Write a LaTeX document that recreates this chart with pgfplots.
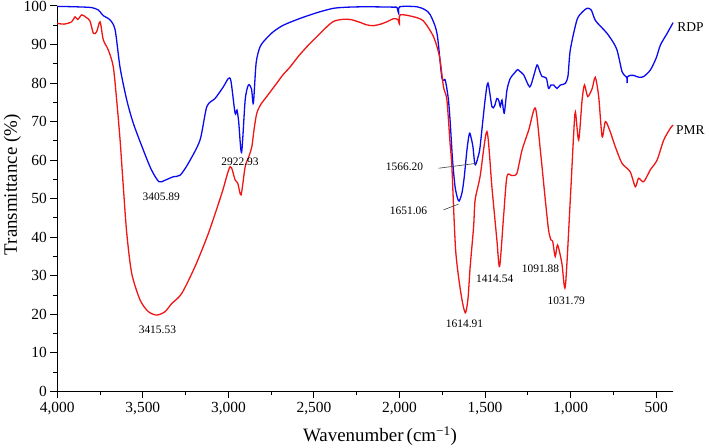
\documentclass[border=0pt]{standalone}
\usepackage{fontspec}
\setmainfont{Liberation Serif}
\usepackage{pgfplots}
\pgfplotsset{compat=1.18}
\definecolor{rdpblue}{RGB}{10,10,240}
\definecolor{pmrred}{RGB}{240,20,20}
\begin{document}
\begin{tikzpicture}
\begin{axis}[
 at={(0,0)}, anchor=south west,
 scale only axis, width=616bp, height=385.4bp,
 x dir=reverse, xmin=400, xmax=4000, ymin=0, ymax=100,
 axis x line*=bottom, axis y line*=left,
 xtick={500,1000,...,4000}, ytick={0,10,...,100},
 minor x tick num=1, minor y tick num=1,
 tick align=outside,
 major tick length=7bp, minor tick length=4bp,
 every tick/.style={black, line width=1bp},
 axis line style={line width=1.2bp},
 /pgf/number format/assume math mode=true,
 /pgf/number format/1000 sep={,},
 ticklabel style={font=\fontsize{15.5}{17}\selectfont},
 clip=false,
 xlabel={Wavenumber\,(cm\textsuperscript{−1})},
 ylabel={Transmittance (\%)},
 xlabel style={font=\fontsize{19}{22}\selectfont, at={(axis description cs:0.524,0)}, anchor=north, inner sep=0pt, yshift=-35bp},
 ylabel style={font=\fontsize{19}{22}\selectfont, at={(axis description cs:-0.073,0.536)}, anchor=center, inner sep=0pt, rotate=0},
]
\addplot[rdpblue, line width=1.3bp, smooth, tension=0.45] coordinates {
(4000,99.9) (3900,99.8) (3800,99.6) (3762,99.0) (3750,98.5) (3731,97.5) (3692,96.4) (3662,93.8) (3633,84) (3594,75.6) (3556,69.6) (3497,62.6) (3450,57.5) (3406,54.4) (3370,54.8) (3322,55.7) (3282,56.1) (3234,59.2) (3166,65.2) (3126,73.9) (3078,76) (3030,79) (3000,81.2) (2985,80.5) (2961,72.2) (2950,73) (2940,70) (2923,62) (2902,75.6) (2883,79.5) (2865,78.5) (2854,74.8) (2838,85.2) (2815,89.4) (2780,91.5) (2738,93.3) (2680,95) (2580,96.8) (2480,98.3) (2386,99.4) (2300,99.7) (2191,99.8) (2035,99.7) (2015,99.6) (2005,98.1) (1998,99.8) (1898,99.8) (1850,99) (1820,97.7) (1781,92.9) (1752,81.3) (1733,80.8) (1715,76) (1704,70) (1690,60) (1675,53) (1660,50) (1651,49.4) (1635,51.5) (1622,55.5) (1605,63) (1591,67) (1580,65.5) (1571,63.5) (1560,59) (1552,59.2) (1540,61) (1529,63.5) (1500,75.6) (1483,80) (1460,73.9) (1445,74) (1431,76) (1420,75.5) (1411,73.9) (1401,75.6) (1388,72.2) (1372,78.2) (1353,81.2) (1330,82.5) (1310,83.5) (1298,83.1) (1274,82.1) (1239,79) (1215,82) (1196,84.7) (1180,83) (1167,81.7) (1142,81.3) (1129,78.6) (1115,79.5) (1099,79.5) (1080,78.6) (1060,79.5) (1031,79.9) (1015,82) (1002,88.6) (963,96.4) (930,98.5) (904,99.4) (880,99) (856,96.3) (820,94.5) (787,92.9) (750,90.5) (729,88.6) (710,85) (700,83) (685,82) (672,81.5) (670,80) (668,81.6) (650,82) (632,82) (600,81.5) (573,81.7) (534,83.4) (500,86.5) (475,89.9) (436,92.9) (401,95.7)
};
\addplot[pmrred, line width=1.3bp, smooth, tension=0.45] coordinates {
(4000,95.5) (3960,95.3) (3916,95.9) (3896,97.2) (3880,96.5) (3857,97.7) (3830,97) (3809,96.1) (3789,92.9) (3770,93.3) (3750,95.9) (3731,91.2) (3702,88.6) (3673,84.3) (3653,75.6) (3633,65.2) (3614,53) (3594,41) (3565,30.6) (3516,23.7) (3468,20.7) (3419,19.8) (3370,20.7) (3331,22.8) (3273,25.4) (3195,32.4) (3117,41) (3039,51.3) (2990,58.3) (2961,54.9) (2945,54) (2926,51) (2902,58.3) (2880,61) (2863,63.5) (2850,68) (2834,72.2) (2810,74.5) (2776,76.5) (2717,80) (2680,82.2) (2639,84.2) (2590,87) (2542,89.4) (2500,91.3) (2464,92.9) (2420,94.8) (2386,96) (2340,96.5) (2288,96.5) (2240,95.9) (2191,95.1) (2152,94.9) (2110,95.3) (2074,95.9) (2035,96.7) (2010,96.5) (2000,95.3) (1996,97.7) (1918,97.2) (1860,96.1) (1801,92) (1766,86.8) (1743,79) (1723,75.6) (1704,64) (1694,58.3) (1672,36.7) (1641,25.4) (1616,20.4) (1600,24) (1587,32.4) (1567,42.7) (1558,49.7) (1529,55.8) (1489,67.4) (1460,53) (1431,39.3) (1415,32.4) (1392,45.3) (1372,55.8) (1343,56) (1314,56.6) (1284,62.6) (1245,67.8) (1206,73.5) (1177,62.6) (1148,49.7) (1129,41.9) (1115,39.3) (1105,39) (1090,35) (1076,38) (1051,33.2) (1031,27.2) (1002,49.7) (982,67) (972,72.5) (953,65.2) (933,75.6) (919,79.5) (900,76.5) (874,78.6) (856,81.5) (836,76.5) (816,66.1) (797,70) (772,67.8) (739,63.5) (700,59.2) (652,57) (622,53.1) (603,55.3) (573,54.4) (534,57.5) (495,60) (456,65.2) (417,68.3) (401,69.1)
};
\begin{scope}[every node/.style={font=\fontsize{11.5}{13}\selectfont, inner sep=0pt}]
\node at (axis cs:3392,50.5) {3405.89};
\node at (axis cs:2932,59.5) {2922.93};
\node at (axis cs:3415,15.9) {3415.53};
\node at (axis cs:1620,17.5) {1614.91};
\node at (axis cs:1444,29.1) {1414.54};
\node at (axis cs:1176,31.9) {1091.88};
\node at (axis cs:1025,23.5) {1031.79};
\node at (axis cs:1971,58.3) {1566.20};
\node at (axis cs:1947,46.9) {1651.06};
\end{scope}
\draw[black!75, line width=0.6bp] (axis cs:1772,57.9) -- (axis cs:1547,59.2);
\draw[black!75, line width=0.6bp] (axis cs:1743,47.1) -- (axis cs:1655,48.6);
\node[font=\fontsize{13.5}{15}\selectfont, inner sep=0pt] at (axis cs:300,94.6) {RDP};
\node[font=\fontsize{13.5}{15}\selectfont, inner sep=0pt] at (axis cs:300,67.8) {PMR};
\end{axis}
\pgfresetboundingbox
\path (-57.3bp,-56.6bp) rectangle (651.7bp,391.4bp);
\end{tikzpicture}
\end{document}
